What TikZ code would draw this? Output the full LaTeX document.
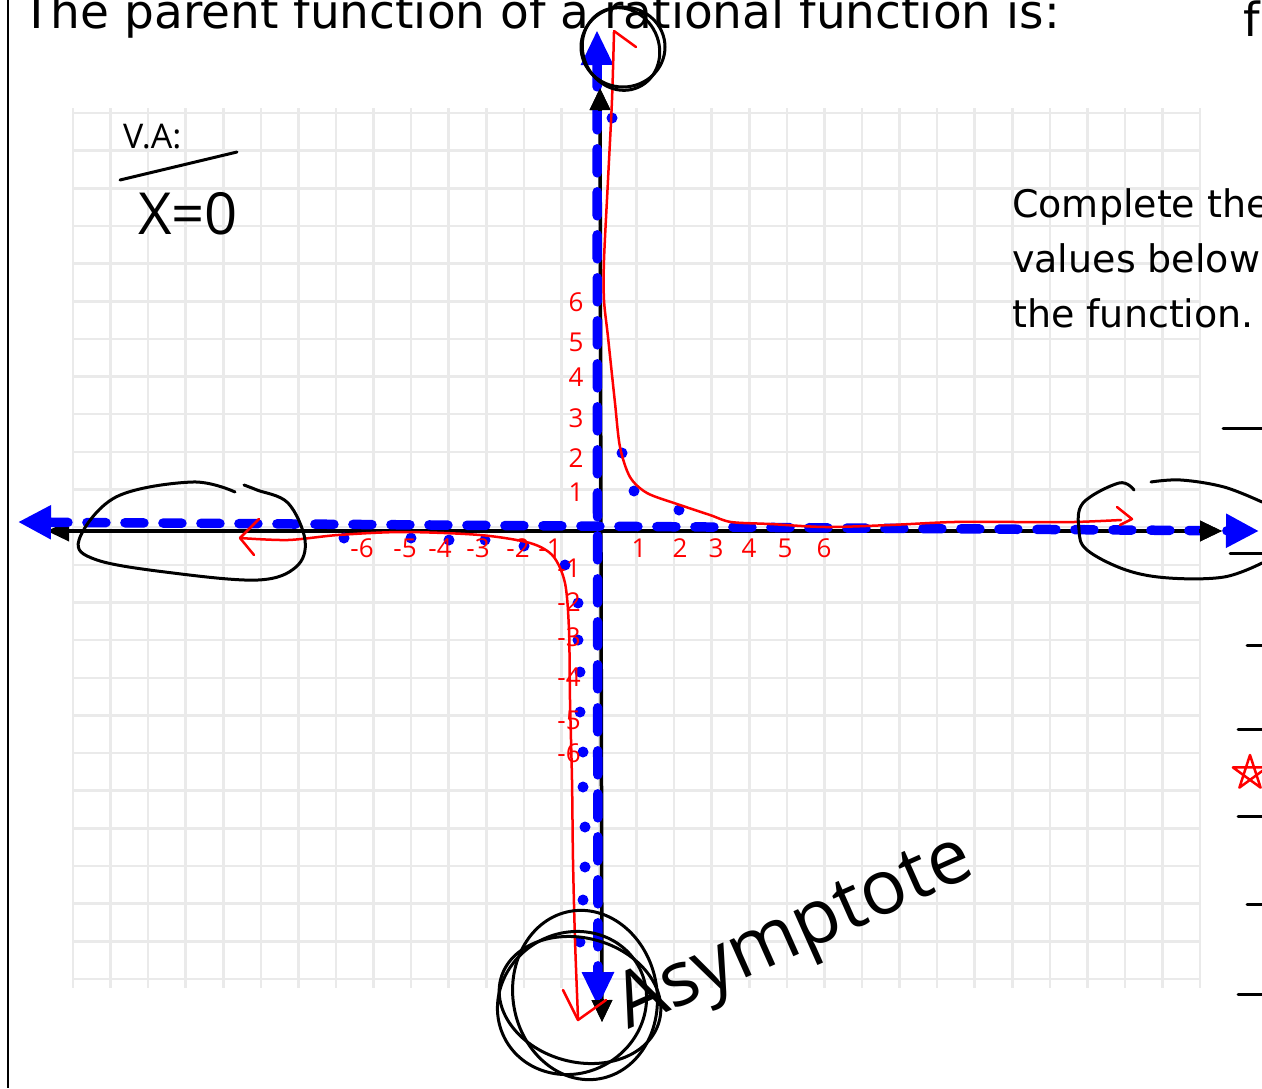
\documentclass[tikz,border=0pt]{standalone}
\usepackage{fontspec}
\setmainfont{DejaVu Sans}
\newfontfamily\handfont{Open Sans}
\usetikzlibrary{arrows.meta}
\definecolor{gridStroke}{HTML}{EAEAEA}
\definecolor{asymBlue}{HTML}{0000FF}
\definecolor{curveRed}{HTML}{FF0000}

\begin{document}
\begin{tikzpicture}[x=1pt,y=-1pt,
  gridline/.style={draw=gridStroke,line width=2.5pt},
  axisline/.style={draw=black,line width=3.5pt},
  asym/.style={draw=asymBlue,line width=9.5pt,line cap=round,dash pattern=on 19pt off 19pt,arrows={Triangle[length=33pt,width=32pt]-Triangle[length=33pt,width=32pt]}},
  curve/.style={draw=curveRed,line width=2.5pt,line cap=round,line join=round},
  ink/.style={draw=black,line width=3pt,line cap=round,line join=round},
  plotdot/.style={circle,fill=asymBlue,inner sep=0pt,minimum size=11pt},
  redlabel/.style={text=curveRed,font=\handfont\fontsize{26}{26}\selectfont,inner sep=0pt},
  printed/.style={anchor=base west,inner sep=0pt,font=\fontsize{38}{38}\selectfont}
]
\useasboundingbox[fill=white] (0,0) rectangle (1262,1088);
% graph paper, the two axes with the asymptotes on top, then the pen work
\draw[line width=1.5pt] (8,0) -- (8,1088);
\foreach \i in {0,...,30} \draw[gridline] ({73+\i*37.57},108) -- ({73+\i*37.57},988);
\foreach \j in {0,...,23} \draw[gridline] (73,{113+\j*37.65}) -- (1200,{113+\j*37.65});

\coordinate (xl) at (47,531); \coordinate (xr) at (1222,531); \coordinate (xrin) at (1199,531);
\coordinate (yt) at (600,88); \coordinate (ytin) at (600,111);
\coordinate (yb) at (602,1022); \coordinate (ybin) at (602,999);
\coordinate (bl) at (18,522); \coordinate (br) at (1259,531);
\coordinate (bt) at (597,30); \coordinate (bb) at (598,1007);

\draw[axisline,arrows={Triangle[length=22pt,width=20pt]-Triangle[length=22pt,width=20pt]}] (xl) -- (xr);
\draw[axisline,arrows={Triangle[length=22pt,width=20pt]-Triangle[length=22pt,width=20pt]}] (yt) -- (yb);
\draw[asym] (bl) -- (br);
\draw[asym,dash pattern=on 24pt off 19pt,arrows={Triangle[length=35pt,width=30pt]-Triangle[length=35pt,width=30pt]}] (bt) -- (bb);
\draw[axisline,-{Triangle[length=22pt,width=20pt]}] (xrin) -- (xr);
\draw[axisline,-{Triangle[length=22pt,width=20pt]}] (ytin) -- (yt);
\draw[axisline,-{Triangle[length=22pt,width=20pt]}] (ybin) -- (yb);

\foreach \px/\py [count=\k] in {612/118,622/453,634/491,679/510,344/538,411/538,449/540,485/540,524/546,
  565/565,578/603,578/640,580/672,580/712,583/752,583/787,585/827,585/867,583/900,580/942}
  \node[plotdot] (dot\k) at (\px,\py) {};

\draw[curve] plot[smooth,tension=0.5] coordinates {(614,32) (612,100) (608,180) (604,260) (604,300) (608,337)
  (615,403) (620,447) (630,477) (647,493) (677,504) (710,515) (731,522) (770,524) (826,527) (890,525)
  (954,522) (1019,522) (1074,522) (1121,520)};
\draw[curve] (614,31) -- (636,47);
\draw[curve] (1117,507) -- (1132,519) -- (1120,525);
\draw[curve] plot[smooth,tension=0.5] coordinates {(240,538) (288,540) (338,535) (403,532) (480,535) (530,543)
  (553,556) (565,583) (569,630) (570,700) (572,780) (573,860) (575,940) (578,1018)};
\draw[curve] (259,519) -- (240,538) -- (254,555);
\draw[curve] (563,990) -- (578,1020) -- (606,1000);

\foreach \lab/\px in {1/639,2/680,3/716,4/749,5/785,6/824} \node[redlabel] (xp\lab) at (\px,548) {\lab};
\foreach \lab/\px in {1/550,2/518,3/478,4/440,5/405,6/362} \node[redlabel] (xn\lab) at (\px,548) {-\lab};
\foreach \lab/\py in {1/492,2/458,3/418,4/377,5/342,6/302} \node[redlabel] (yp\lab) at (576,\py) {\lab};
\foreach \lab/\py in {1/568,2/602,3/637,4/677,5/720,6/753} \node[redlabel] (yn\lab) at (569,\py) {-\lab};

\draw[ink] (623,47) ellipse[x radius=42,y radius=40];
\draw[ink,rotate around={25:(621,49)}] (621,49) ellipse[x radius=38,y radius=42];
\draw[ink,rotate around={-15:(580,1000)}] (580,1000) ellipse[x radius=82,y radius=62];
\draw[ink,rotate around={10:(585,995)}] (585,995) ellipse[x radius=72,y radius=85];
\draw[ink,rotate around={30:(572,1003)}] (572,1003) ellipse[x radius=76,y radius=70];
\draw[ink] plot[smooth,tension=0.6] coordinates {(235,492) (192,482) (116,497) (79,540) (97,560) (173,573)
  (258,580) (296,567) (305,540) (288,503) (257,490) (244,485)};
\draw[ink] plot[smooth,tension=0.6] coordinates {(1134,490) (1119,483) (1083,503) (1079,530) (1087,550)
  (1126,570) (1169,578) (1224,577) (1262,563)};
\draw[ink] plot[smooth,tension=0.6] coordinates {(1151,482) (1181,480) (1224,487) (1262,502)};
\draw[ink] (120,180) -- (237,152);
\foreach \py/\px in {428/1223,553/1230,645/1247,729/1238,816/1238,904/1247,994/1238} \draw[ink] (\px,\py) -- (1262,\py);
\draw[curve] (1250,755) -- (1239.4,787.6) -- (1267.1,767.4) -- (1232.9,767.4) -- (1260.6,787.6) -- cycle;

\node[anchor=base west,inner sep=0pt,font=\fontsize{47}{47}\selectfont] (title) at (22,28) {The parent function of a rational function is:};
\node[anchor=base west,inner sep=0pt,font=\fontsize{47}{47}\selectfont] (fname) at (1243,36) {f};
\node[printed] (taskA) at (1012,217) {Complete the};
\node[printed] (taskB) at (1012,272) {values below,};
\node[printed] (taskC) at (1012,327) {the function.};
\node[anchor=base west,inner sep=0pt,font=\handfont\fontsize{34}{34}\selectfont] (vaLabel) at (123,148) {V.A:};
\node[anchor=base west,inner sep=0pt,font=\handfont\fontsize{58}{58}\selectfont] (vaEq) at (138,234) {X=0};
\node[anchor=base west,inner sep=0pt,rotate=24,font=\handfont\fontsize{76}{76}\selectfont] (asymText) at (628,1030) {Asymptote};
\end{tikzpicture}
\end{document}
